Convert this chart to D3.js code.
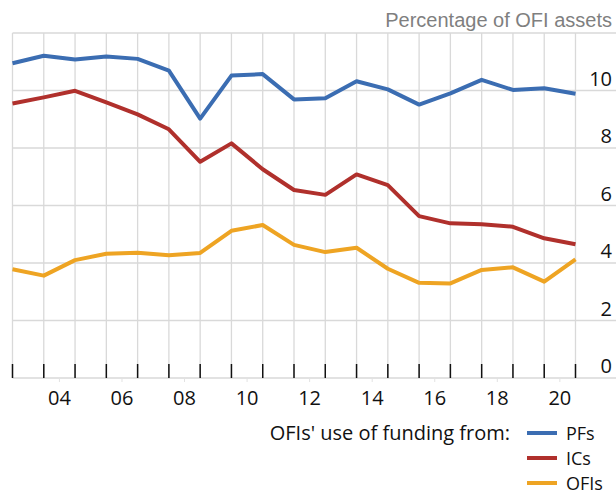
<!DOCTYPE html>
<html>
<head>
<meta charset="utf-8">
<script src="https://cdn.jsdelivr.net/npm/d3@7"></script>
<style>
  html, body { margin: 0; padding: 0; background: #fff; }
  svg { display: block; }
</style>
</head>
<body>
<svg id="chart" width="616" height="495"></svg>
<script>
// ---- Data ----
const years = [2002, 2003, 2004, 2005, 2006, 2007, 2008, 2009, 2010, 2011,
               2012, 2013, 2014, 2015, 2016, 2017, 2018, 2019, 2020];
const pfs  = [10.95, 11.21, 11.08, 11.18, 11.10, 10.69, 9.02, 10.52, 10.57, 9.69,
              9.73, 10.32, 10.04, 9.51, 9.90, 10.37, 10.02, 10.08, 9.89];
const ics  = [9.55, 9.76, 9.99, 9.59, 9.17, 8.65, 7.52, 8.16, 7.26, 6.54,
              6.37, 7.08, 6.71, 5.63, 5.38, 5.35, 5.26, 4.86, 4.65];
const ofis = [3.78, 3.56, 4.10, 4.32, 4.36, 4.27, 4.35, 5.12, 5.32, 4.63,
              4.38, 4.53, 3.80, 3.31, 3.29, 3.76, 3.85, 3.35, 4.13];
const xTickYears  = [2004, 2006, 2008, 2010, 2012, 2014, 2016, 2018, 2020];
const xTickLabels = ["04", "06", "08", "10", "12", "14", "16", "18", "20"];
const yTicks      = [0, 2, 4, 6, 8, 10];
const yGrid       = [0, 2, 4, 6, 8, 10, 12];
const seriesNames  = ["PFs", "ICs", "OFIs"];
const seriesColors = ["#3b6db2", "#b0302c", "#eea423"];
const unitLabel = "Percentage of OFI assets";
const legendTitle = "OFIs' use of funding from:";

// ---- Layout ----
const svg = d3.select("#chart");
const W = 616;
const pLeft = 12.5, pRight = 575.5, pTop = 33, pBottom = 378;

const x = d3.scaleLinear().domain([years[0], years[years.length - 1]]).range([pLeft, pRight]);
const y = d3.scaleLinear().domain([0, 12]).range([pBottom, pTop]);

const gridColor = "#d9d9d9";

// horizontal gridlines
svg.append("g").selectAll("line").data(yGrid).join("line")
  .attr("x1", pLeft).attr("x2", W)
  .attr("y1", d => y(d)).attr("y2", d => y(d))
  .attr("stroke", gridColor).attr("stroke-width", 1.3);

// vertical gridlines
svg.append("g").selectAll("line").data(years).join("line")
  .attr("x1", d => x(d)).attr("x2", d => x(d))
  .attr("y1", pTop).attr("y2", pBottom)
  .attr("stroke", gridColor).attr("stroke-width", 1.3);

// black inner ticks
svg.append("g").selectAll("line").data(years).join("line")
  .attr("x1", d => x(d)).attr("x2", d => x(d))
  .attr("y1", pBottom - 14).attr("y2", pBottom)
  .attr("stroke", "#111").attr("stroke-width", 1.5);

// faint label ticks under axis
svg.append("g").selectAll("line").data(xTickYears).join("line")
  .attr("x1", d => x(d - 0.5)).attr("x2", d => x(d - 0.5))
  .attr("y1", pBottom).attr("y2", pBottom + 4)
  .attr("stroke", "#e2e2e2").attr("stroke-width", 1);

// x tick labels
svg.append("g").selectAll("text").data(xTickYears).join("text")
  .attr("x", d => x(d - 0.5)).attr("y", 405)
  .attr("text-anchor", "middle")
  .attr("font-family", "'Open Sans', sans-serif").attr("font-size", 20)
  .attr("fill", "#111")
  .text((d, i) => xTickLabels[i]);

// y tick labels (right side, above gridline)
svg.append("g").selectAll("text").data(yTicks).join("text")
  .attr("x", 612).attr("y", d => y(d) - 5)
  .attr("text-anchor", "end")
  .attr("font-family", "'Open Sans', sans-serif").attr("font-size", 20)
  .attr("fill", "#111")
  .text(d => d);

// unit label
svg.append("text")
  .attr("x", 612).attr("y", 27)
  .attr("text-anchor", "end")
  .attr("font-family", "'Liberation Sans', Arial, sans-serif").attr("font-size", 20)
  .attr("fill", "#7f7f7f")
  .text(unitLabel);

// lines
const line = d3.line().x((d, i) => x(years[i])).y(d => y(d));
const allSeries = [pfs, ics, ofis];
svg.append("g").selectAll("path").data(allSeries).join("path")
  .attr("d", d => line(d))
  .attr("fill", "none")
  .attr("stroke", (d, i) => seriesColors[i])
  .attr("stroke-width", 4)
  .attr("stroke-linejoin", "round");

// legend
const legendY = [433, 458, 483];
svg.append("text")
  .attr("x", 510).attr("y", legendY[0] + 7)
  .attr("text-anchor", "end")
  .attr("font-family", "'Open Sans', sans-serif").attr("font-size", 20)
  .attr("fill", "#111")
  .text(legendTitle);
const lg = svg.append("g").selectAll("g").data(seriesNames).join("g");
lg.append("line")
  .attr("x1", 527).attr("x2", 557)
  .attr("y1", (d, i) => legendY[i]).attr("y2", (d, i) => legendY[i])
  .attr("stroke", (d, i) => seriesColors[i]).attr("stroke-width", 4);
lg.append("text")
  .attr("x", 566).attr("y", (d, i) => legendY[i] + 6.5)
  .attr("font-family", "'Open Sans', sans-serif").attr("font-size", 18)
  .attr("fill", "#111")
  .text(d => d);
</script>
</body>
</html>
